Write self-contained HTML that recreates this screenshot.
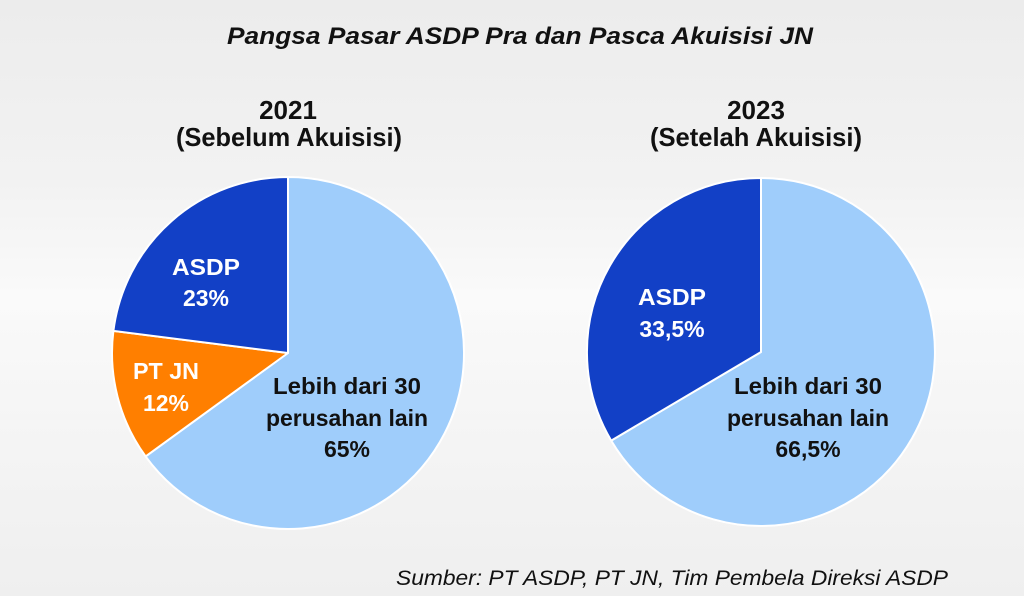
<!DOCTYPE html>
<html><head><meta charset="utf-8"><style>
html,body{margin:0;padding:0;width:1024px;height:596px;overflow:hidden}
body{background:linear-gradient(180deg,#ececec 0%,#f2f2f2 30%,#fafafa 50%,#f4f4f4 75%,#efefef 100%)}
svg{display:block}
text{font-family:"Liberation Sans",sans-serif;font-weight:bold}
</style></head><body>
<svg width="1024" height="596" viewBox="0 0 1024 596">
<text x="520" y="44" font-size="24" font-style="italic" text-anchor="middle" textLength="586" lengthAdjust="spacingAndGlyphs" fill="#111">Pangsa Pasar ASDP Pra dan Pasca Akuisisi JN</text>
<text x="288" y="119" font-size="26" text-anchor="middle" fill="#111">2021</text>
<text x="289" y="146" font-size="26" text-anchor="middle" textLength="226" lengthAdjust="spacingAndGlyphs" fill="#111">(Sebelum Akuisisi)</text>
<text x="756" y="119" font-size="26" text-anchor="middle" fill="#111">2023</text>
<text x="756" y="146" font-size="26" text-anchor="middle" textLength="212" lengthAdjust="spacingAndGlyphs" fill="#111">(Setelah Akuisisi)</text>

<g stroke="#fff" stroke-width="2" stroke-linejoin="round">
<path d="M288,353 L288,177 A176,176 0 1 1 145.6,456.4 Z" fill="#9fcdfb"/>
<path d="M288,353 L145.6,456.4 A176,176 0 0 1 113.4,330.9 Z" fill="#ff7f00"/>
<path d="M288,353 L113.4,330.9 A176,176 0 0 1 288,177 Z" fill="#1240c6"/>
<path d="M761,352 L761,178 A174,174 0 1 1 611.2,440.6 Z" fill="#9fcdfb"/>
<path d="M761,352 L611.2,440.6 A174,174 0 0 1 761,178 Z" fill="#1240c6"/>
</g>

<g font-size="23" text-anchor="middle">
<text x="206" y="275" fill="#fff" textLength="68" lengthAdjust="spacingAndGlyphs">ASDP</text>
<text x="206" y="306" fill="#fff">23%</text>
<text x="166" y="379" fill="#fff" textLength="66" lengthAdjust="spacingAndGlyphs">PT JN</text>
<text x="166" y="411" fill="#fff">12%</text>
<text x="347" y="394" fill="#111" textLength="148" lengthAdjust="spacingAndGlyphs">Lebih dari 30</text>
<text x="347" y="426" fill="#111" textLength="162" lengthAdjust="spacingAndGlyphs">perusahan lain</text>
<text x="347" y="457" fill="#111">65%</text>
<text x="672" y="305" fill="#fff" textLength="68" lengthAdjust="spacingAndGlyphs">ASDP</text>
<text x="672" y="337" fill="#fff">33,5%</text>
<text x="808" y="394" fill="#111" textLength="148" lengthAdjust="spacingAndGlyphs">Lebih dari 30</text>
<text x="808" y="426" fill="#111" textLength="162" lengthAdjust="spacingAndGlyphs">perusahan lain</text>
<text x="808" y="457" fill="#111">66,5%</text>
</g>
<text x="672" y="585" font-size="21" font-style="italic" text-anchor="middle" textLength="552" lengthAdjust="spacingAndGlyphs" fill="#111" style="font-weight:normal">Sumber: PT ASDP, PT JN, Tim Pembela Direksi ASDP</text>
</svg>
</body></html>
